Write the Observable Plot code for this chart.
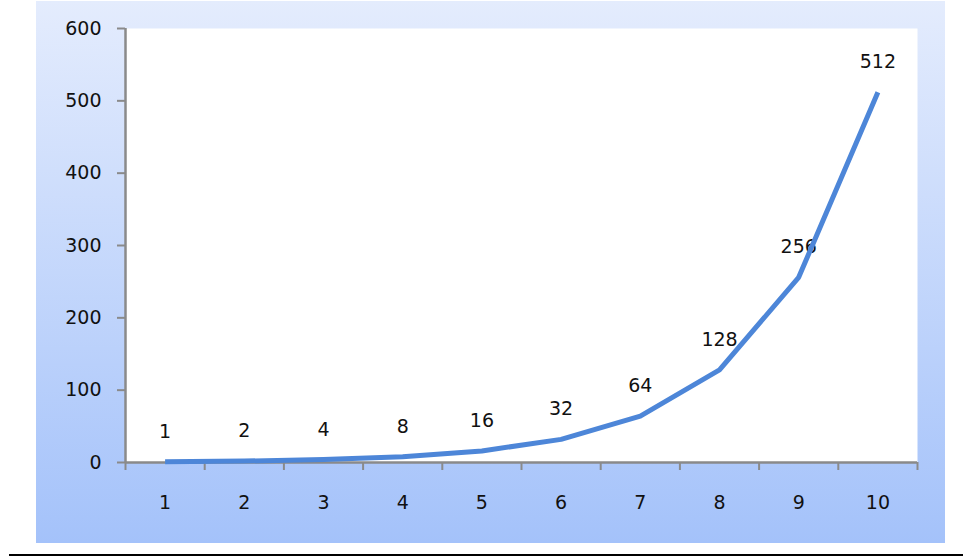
<!DOCTYPE html>
<html>
<head>
<meta charset="utf-8">
<script src="https://cdn.jsdelivr.net/npm/d3@7"></script>
<script src="https://cdn.jsdelivr.net/npm/@observablehq/plot@0.6"></script>
<style>
  html, body { margin: 0; padding: 0; background: #ffffff; }
  #wrap { position: relative; width: 963px; height: 558px; overflow: hidden; background: #fff; }
  #panel { position: absolute; left: 36px; top: 1px; width: 909px; height: 542px;
           background: linear-gradient(to bottom, #e4ecfd 0%, #a4c2fa 100%); }
  #rule { position: absolute; left: 9px; top: 554px; width: 954px; height: 2px; background: #000; }
  #chart { position: absolute; left: 0; top: 0; }
</style>
</head>
<body>
<div id="wrap">
  <div id="panel"></div>
  <div id="chart"></div>
  <div id="rule"></div>
</div>
<script>
const categories = [1, 2, 3, 4, 5, 6, 7, 8, 9, 10];
const values = [1, 2, 4, 8, 16, 32, 64, 128, 256, 512];
const yTicks = [0, 100, 200, 300, 400, 500, 600];

const data = categories.map((c, i) => ({x: c, y: values[i]}));
const bounds = [categories[0] - 0.5, ...categories.map(c => c + 0.5)];

const font = "DejaVu Sans, Verdana, sans-serif";
const fs = 19;
const chart = Plot.plot({
  width: 963,
  height: 558,
  marginLeft: 125,
  marginRight: 46,
  marginTop: 28,
  marginBottom: 96,
  style: {background: "transparent", fontFamily: font, fontSize: fs + "px", color: "#111"},
  x: {type: "linear", domain: [bounds[0], bounds[bounds.length - 1]]},
  y: {domain: [0, 600]},
  marks: [
    Plot.frame({fill: "white", stroke: "none"}),
    Plot.axisY({ticks: yTicks, tickSize: 8, tickPadding: 16, tickFormat: d => String(d),
                stroke: "#8a8a8a", strokeWidth: 2, fontSize: fs, label: null, fill: "#111"}),
    Plot.axisX({ticks: bounds, tickSize: 8, tickFormat: () => "", stroke: "#8a8a8a", strokeWidth: 2, label: null}),
    Plot.axisX({ticks: categories, tickSize: 0, tickPadding: 33, tickFormat: d => String(d), fontSize: fs, label: null, fill: "#111"}),
    Plot.ruleY([0], {stroke: "#8a8a8a", strokeWidth: 2.5}),
    Plot.ruleX([bounds[0]], {stroke: "#8a8a8a", strokeWidth: 2.5}),
    Plot.text(data, {x: "x", y: "y", text: d => String(d.y), dy: -30, fontSize: fs, fill: "#111"}),
    Plot.line(data, {x: "x", y: "y", stroke: "#4d86d8", strokeWidth: 5, strokeLinejoin: "round", strokeLinecap: "butt"})
  ]
});
document.getElementById("chart").appendChild(chart);
</script>
</body>
</html>
